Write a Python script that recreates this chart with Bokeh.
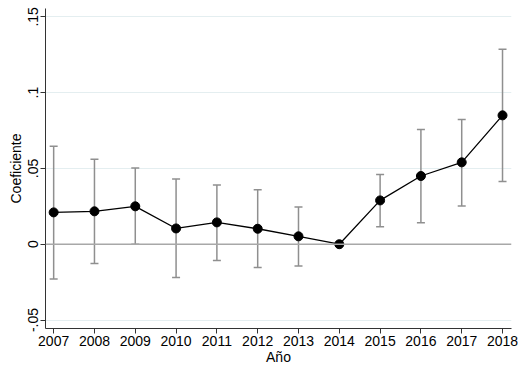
from bokeh.plotting import figure
from bokeh.models import ColumnDataSource, Whisker, Span, FixedTicker, TeeHead
from bokeh.embed import file_html
from bokeh.resources import INLINE

years = [2007, 2008, 2009, 2010, 2011, 2012, 2013, 2014, 2015, 2016, 2017, 2018]
coef = [0.021, 0.0217, 0.025, 0.0104, 0.0144, 0.0102, 0.0052, 0.0, 0.0289, 0.045, 0.054, 0.085]
upper = [0.0646, 0.056, 0.0503, 0.043, 0.039, 0.036, 0.0245, 0.0, 0.046, 0.0756, 0.0822, 0.1286]
lower = [-0.023, -0.0127, 0.0, -0.0219, -0.0107, -0.0153, -0.0144, 0.0, 0.0116, 0.0142, 0.0252, 0.0413]
y_ticks = [-0.05, 0, 0.05, 0.1, 0.15]
y_tick_labels = ["-.05", "0", ".05", ".1", ".15"]

FONT = "Liberation Sans"

p = figure(frame_width=466, frame_height=320, output_backend="svg", toolbar_location=None,
           x_range=(2006.8, 2018.22), y_range=(-0.0556, 0.1555),
           min_border_left=45, min_border_right=10, min_border_top=8, min_border_bottom=0)
p.outline_line_color = None
p.background_fill_color = "white"

# grid
p.xgrid.grid_line_color = None
p.ygrid.grid_line_color = "#e4eef0"
p.ygrid.grid_line_width = 1
p.ygrid.ticker = FixedTicker(ticks=[-0.05, 0.05, 0.1, 0.15])

p.xaxis.ticker = FixedTicker(ticks=years)
p.yaxis.ticker = FixedTicker(ticks=y_ticks)
p.yaxis.major_label_overrides = {t: l for t, l in zip(y_ticks, y_tick_labels)}
p.yaxis.major_label_orientation = "vertical"

for ax in (p.xaxis[0], p.yaxis[0]):
    ax.axis_line_color = "#333333"
    ax.major_tick_line_color = "#333333"
    ax.major_tick_out = 5
    ax.major_tick_in = 0
    ax.minor_tick_line_color = None
    ax.major_label_text_font = FONT
    ax.major_label_text_font_size = "14px"
    ax.major_label_text_color = "black"
    ax.axis_label_text_font = FONT
    ax.axis_label_text_font_size = "14px"
    ax.axis_label_text_font_style = "normal"
    ax.axis_label_text_color = "black"
    ax.major_label_standoff = 2
    ax.axis_label_standoff = 0

p.yaxis.axis_label_standoff = 2
p.xaxis.axis_label = "Año"
p.yaxis.axis_label = "Coeficiente"

zero = Span(location=0, dimension="width", line_color="#a8a8a8", line_width=1.5)
p.add_layout(zero)

src = ColumnDataSource(dict(x=years, y=coef))
err_src = ColumnDataSource(dict(x=[x for x, u, l in zip(years, upper, lower) if u != l],
                                up=[u for u, l in zip(upper, lower) if u != l],
                                lo=[l for u, l in zip(upper, lower) if u != l]))
w = Whisker(base="x", upper="up", lower="lo", source=err_src,
            line_color="#8f8f8f", line_width=1.5,
            upper_head=TeeHead(size=8, line_color="#8f8f8f", line_width=1.5),
            lower_head=TeeHead(size=8, line_color="#8f8f8f", line_width=1.5))
p.add_layout(w)

p.line("x", "y", source=src, line_color="black", line_width=1.3)
p.scatter("x", "y", source=src, size=9, fill_color="black", line_color="black")

open("out.html", "w").write(file_html(p, INLINE))
